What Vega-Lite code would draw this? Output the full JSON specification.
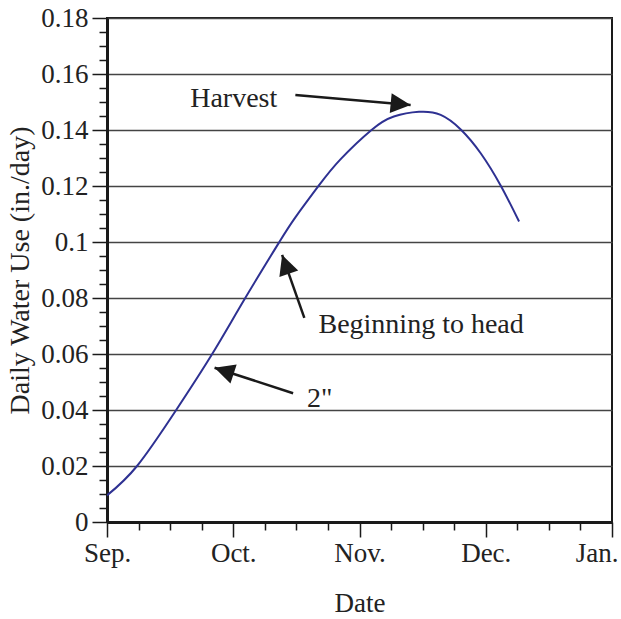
{
  "$schema": "https://vega.github.io/schema/vega-lite/v6.json",
  "width": 505,
  "height": 504,
  "autosize": {"type": "none"},
  "padding": {"left": 107, "top": 18, "right": 9, "bottom": 97},
  "background": "white",
  "config": {
    "view": {"stroke": "#1a1a1a", "strokeWidth": 2},
    "font": "Liberation Serif"
  },
  "datasets": {
    "curve": [
      {"m": 0, "v": 0.0095},
      {"m": 0.238, "v": 0.020},
      {"m": 0.548, "v": 0.040},
      {"m": 0.833, "v": 0.060},
      {"m": 1.095, "v": 0.080},
      {"m": 1.365, "v": 0.100},
      {"m": 1.492, "v": 0.1088},
      {"m": 1.677, "v": 0.1201},
      {"m": 1.849, "v": 0.1295},
      {"m": 2.095, "v": 0.1400},
      {"m": 2.272, "v": 0.1448},
      {"m": 2.471, "v": 0.1465},
      {"m": 2.643, "v": 0.1454},
      {"m": 2.802, "v": 0.1402},
      {"m": 2.960, "v": 0.1317},
      {"m": 3.119, "v": 0.1201},
      {"m": 3.264, "v": 0.1073}
    ],
    "arrows": [
      {"name": "harvest", "m2": 1.492, "v2": 0.1525, "m": 2.405, "v": 0.1489},
      {"name": "head", "m2": 1.563, "v2": 0.0729, "m": 1.387, "v": 0.0954},
      {"name": "two", "m2": 1.474, "v2": 0.0460, "m": 0.852, "v": 0.0551}
    ],
    "labels": [
      {"label": "Harvest", "m": 0.659, "v": 0.1482},
      {"label": "Beginning to head", "m": 1.675, "v": 0.0675},
      {"label": "2\"", "m": 1.585, "v": 0.0412}
    ]
  },
  "encoding": {
    "x": {
      "field": "m",
      "type": "quantitative",
      "scale": {"domain": [0, 4], "nice": false, "zero": false},
      "axis": {
        "title": "Date",
        "titleFont": "Liberation Serif",
        "titleFontSize": 27,
        "titleFontWeight": "normal",
        "titleColor": "#222",
        "titlePadding": 24,
        "values": [0, 0.25, 0.5, 0.75, 1, 1.25, 1.5, 1.75, 2, 2.25, 2.5, 2.75, 3, 3.25, 3.5, 3.75, 4],
        "labelExpr": "datum.value == round(datum.value) ? ['Sep.','Oct.','Nov.','Dec.','Jan.'][round(datum.value)] : ''",
        "labelFont": "Liberation Serif",
        "labelFontSize": 27,
        "labelColor": "#222",
        "labelPadding": 3,
        "labelOverlap": false,
        "labelBound": false,
        "labelFlush": false,
        "labelAlign": {"condition": {"test": "datum.value == 4", "value": "right"}, "value": "center"},
        "labelOffset": {"condition": {"test": "datum.value == 4", "value": 6}, "value": 0},
        "tickSize": {"condition": {"test": "datum.value == round(datum.value)", "value": 15}, "value": 8},
        "tickColor": "#1a1a1a",
        "tickWidth": 1.5,
        "domainColor": "#1a1a1a",
        "domainWidth": 3,
        "grid": false
      }
    },
    "y": {
      "field": "v",
      "type": "quantitative",
      "scale": {"domain": [0, 0.18], "nice": false},
      "axis": {
        "title": "Daily Water Use (in./day)",
        "titleFont": "Liberation Serif",
        "titleFontSize": 28,
        "titleFontWeight": "normal",
        "titleColor": "#222",
        "titlePadding": 6,
        "values": [0, 0.005, 0.01, 0.015, 0.02, 0.025, 0.03, 0.035, 0.04, 0.045, 0.05, 0.055, 0.06, 0.065, 0.07, 0.075, 0.08, 0.085, 0.09, 0.095, 0.1, 0.105, 0.11, 0.115, 0.12, 0.125, 0.13, 0.135, 0.14, 0.145, 0.15, 0.155, 0.16, 0.165, 0.17, 0.175, 0.18],
        "labelExpr": "abs(datum.value*50 - round(datum.value*50)) < 0.001 ? format(datum.value, '~g') : ''",
        "labelFont": "Liberation Serif",
        "labelFontSize": 27,
        "labelColor": "#222",
        "labelPadding": 4,
        "labelOverlap": false,
        "labelBound": false,
        "labelFlush": false,
        "tickSize": {"condition": {"test": "abs(datum.value*50 - round(datum.value*50)) < 0.001", "value": 15}, "value": 8},
        "tickColor": "#1a1a1a",
        "tickWidth": 1.5,
        "domainColor": "#1a1a1a",
        "domainWidth": 3,
        "grid": true,
        "gridColor": "#444",
        "gridWidth": 1.5,
        "gridOpacity": {"condition": {"test": "abs(datum.value*50 - round(datum.value*50)) < 0.001", "value": 1}, "value": 0}
      }
    }
  },
  "layer": [
    {
      "data": {"name": "curve"},
      "mark": {"type": "line", "interpolate": "natural", "color": "#2E3192", "strokeWidth": 2, "clip": true}
    },
    {
      "data": {"name": "arrows"},
      "mark": {"type": "rule", "color": "#1a1a1a", "strokeWidth": 2.5},
      "encoding": {"x2": {"field": "m2"}, "y2": {"field": "v2"}}
    },
    {
      "data": {"name": "arrows"},
      "transform": [{"filter": "datum.name == 'harvest'"}],
      "mark": {"type": "point", "shape": "M0,0L-2,-1L-2,1Z", "size": 400, "filled": true, "color": "#1a1a1a", "opacity": 1, "angle": 5.5}
    },
    {
      "data": {"name": "arrows"},
      "transform": [{"filter": "datum.name == 'head'"}],
      "mark": {"type": "point", "shape": "M0,0L-2,-1L-2,1Z", "size": 400, "filled": true, "color": "#1a1a1a", "opacity": 1, "angle": 250.5}
    },
    {
      "data": {"name": "arrows"},
      "transform": [{"filter": "datum.name == 'two'"}],
      "mark": {"type": "point", "shape": "M0,0L-2,-1L-2,1Z", "size": 400, "filled": true, "color": "#1a1a1a", "opacity": 1, "angle": 198.1}
    },
    {
      "data": {"name": "labels"},
      "mark": {"type": "text", "align": "left", "baseline": "alphabetic", "font": "Liberation Serif", "fontSize": 28, "color": "#222"},
      "encoding": {"text": {"field": "label"}}
    }
  ]
}
